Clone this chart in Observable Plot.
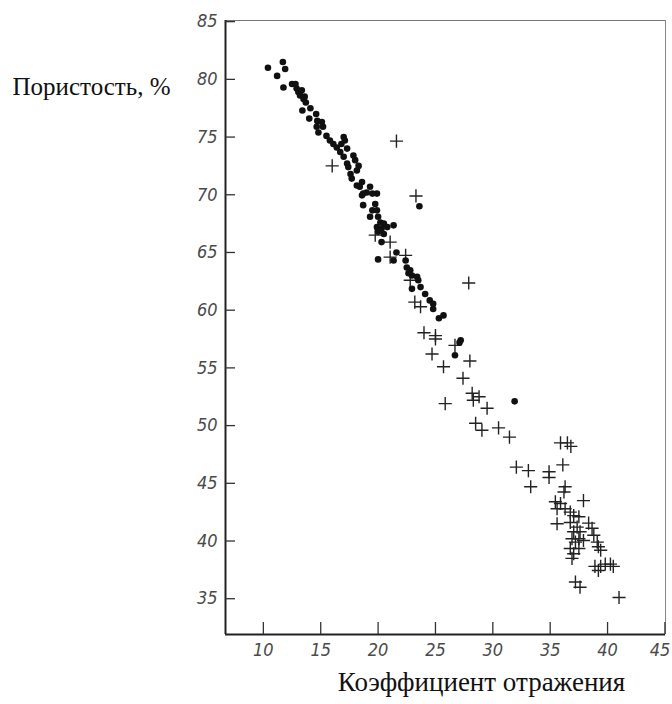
<!DOCTYPE html>
<html>
<head>
<meta charset="utf-8">
<script src="https://cdn.jsdelivr.net/npm/d3@7"></script>
<script src="https://cdn.jsdelivr.net/npm/@observablehq/plot@0.6"></script>
<style>
  html, body { margin: 0; padding: 0; background: #fff; }
</style>
</head>
<body>
<div id="chart"></div>
<script>
// Dots (series 1): reflection coefficient, porosity %
const dotX = [10.4, 11.2, 11.7, 11.9, 11.75, 12.5, 12.8, 12.9, 13.05, 13.2, 13.35, 13.5, 13.6, 13.7, 13.4, 14.1, 14.0, 14.6, 14.7, 15.1,
  14.65, 14.8, 15.2, 15.5, 15.8, 16.1, 16.4, 17.0, 17.1, 16.8, 16.7, 17.0, 17.3, 17.85, 18.0, 17.3, 17.4, 17.6, 17.7, 18.15,
  18.3, 18.6, 18.4, 18.7, 19.0, 19.3, 19.5, 19.9, 18.15, 18.6, 23.6, 18.7, 19.75, 19.5, 19.9, 19.3, 20.0, 20.2, 20.5, 19.9,
  20.3, 20.8, 21.35, 20.0, 20.5, 20.3, 20.0, 21.35, 21.6, 22.4, 22.5, 22.8, 22.65, 22.95, 23.4, 23.5, 23.7, 22.95, 24.1, 24.5,
  24.8, 24.8, 25.3, 25.7, 27.2, 27.1, 26.7, 31.9];
const dotY = [81.0, 80.3, 81.5, 80.9, 79.3, 79.6, 79.6, 79.2, 78.9, 78.6, 79.05, 78.3, 78.5, 78.0, 77.3, 77.5, 76.6, 77.0, 76.4, 76.3,
  75.9, 75.4, 75.9, 75.1, 74.7, 74.4, 74.1, 75.0, 74.7, 74.4, 73.7, 73.3, 74.0, 73.4, 73.0, 72.7, 72.4, 71.8, 71.4, 72.1,
  72.5, 71.1, 70.7, 70.1, 70.2, 70.7, 70.1, 70.1, 70.8, 69.95, 69.0, 69.1, 69.2, 68.65, 68.65, 68.1, 68.1, 67.6, 67.5, 67.2,
  67.05, 67.2, 67.35, 66.8, 66.6, 65.9, 64.4, 64.3, 65.0, 64.3, 63.7, 63.45, 63.2, 63.0, 62.9, 62.6, 62.0, 61.85, 61.4, 60.85,
  60.55, 60.1, 59.3, 59.55, 57.4, 57.2, 56.1, 52.1];

// Crosses (series 2)
const crossX = [21.6, 16.0, 23.3, 19.75, 21.05, 21.05, 22.4, 22.8, 23.2, 23.7, 24.0, 25.0, 25.0, 26.7, 24.7, 25.7, 28.0, 27.9, 27.4, 25.85,
  28.2, 28.3, 28.8, 29.5, 28.5, 29.05, 30.5, 31.45, 32.05, 33.1, 33.3, 34.9, 34.9, 35.9, 36.5, 36.8, 36.1, 36.3, 36.2, 37.9,
  35.45, 35.9, 35.6, 36.3, 36.75, 37.05, 37.5, 35.6, 36.75, 38.35, 37.35, 38.65, 37.05, 37.6, 38.8, 36.9, 37.5, 37.9, 37.2, 39.1,
  39.2, 36.75, 37.5, 39.4, 37.05, 36.9, 38.9, 39.4, 39.8, 40.25, 40.5, 39.2, 37.2, 37.6, 41.0];
const crossY = [74.65, 72.5, 69.9, 66.5, 65.9, 64.6, 64.75, 62.6, 60.7, 60.3, 58.05, 57.8, 57.5, 56.95, 56.2, 55.1, 55.6, 62.35, 54.1, 51.9,
  52.8, 52.2, 52.5, 51.5, 50.2, 49.6, 49.8, 49.0, 46.4, 46.1, 44.7, 46.0, 45.5, 48.5, 48.5, 48.2, 46.6, 44.7, 44.25, 43.5,
  43.4, 43.25, 42.8, 42.8, 42.5, 42.2, 42.1, 41.5, 41.6, 41.55, 41.2, 41.1, 40.8, 40.8, 40.5, 40.2, 40.2, 40.05, 39.9, 39.9,
  39.5, 39.35, 39.35, 39.2, 38.9, 38.5, 37.8, 37.8, 38.0, 38.0, 37.8, 37.45, 36.45, 36.0, 35.1];

const xTicks = [10, 15, 20, 25, 30, 35, 40, 45];
const yTicks = [35, 40, 45, 50, 55, 60, 65, 70, 75, 80, 85];
const xDomain = [6.7, 45.05];
const yDomain = [31.9, 85.1];
const yTitle = "Пористость, %";
const xTitle = "Коэффициент отражения";

const dots = dotX.map((x, i) => ({x, y: dotY[i]}));
const crosses = crossX.map((x, i) => ({x, y: crossY[i]}));

const tickFont = {fontFamily: "'DejaVu Sans Condensed', 'DejaVu Sans', sans-serif", fontSize: 18, fontStyle: "italic", fill: "#4a4a4a"};

const chart = Plot.plot({
  width: 672,
  height: 704,
  marginLeft: 225,
  marginRight: 7,
  marginTop: 20,
  marginBottom: 70,
  style: {background: "#fff", color: "#222", overflow: "visible"},
  x: {domain: xDomain, label: null},
  y: {domain: yDomain, label: null},
  marks: [
    // thin top/right frame
    Plot.ruleY([yDomain[1]], {stroke: "#777", strokeWidth: 1}),
    Plot.ruleX([xDomain[1]], {stroke: "#888", strokeWidth: 1}),
    // thick left/bottom axes
    Plot.ruleX([xDomain[0]], {stroke: "#222", strokeWidth: 2}),
    Plot.ruleY([yDomain[0]], {stroke: "#222", strokeWidth: 2}),
    // inward tick marks
    Plot.axisX(xTicks, {tickSize: -12, tickFormat: () => "", strokeWidth: 1.3, stroke: "#333", label: null}),
    Plot.axisY(yTicks, {tickSize: -10, tickFormat: () => "", strokeWidth: 1.3, stroke: "#333", label: null}),
    // tick labels (last x label nudged inside the picture, as in the reference)
    Plot.axisX(xTicks.slice(0, -1), {tickSize: 0, tickPadding: 9, label: null, ...tickFont}),
    Plot.axisX(xTicks.slice(-1), {tickSize: 0, tickPadding: 9, label: null, dx: -5, ...tickFont}),
    Plot.axisY(yTicks, {tickSize: 0, tickPadding: 8, label: null, ...tickFont}),
    // data
    Plot.dot(crosses, {x: "x", y: "y", symbol: "plus", r: 4.3, stroke: "#222", strokeWidth: 1.4}),
    Plot.dot(dots, {x: "x", y: "y", r: 3.3, fill: "#111", stroke: "none"}),
    // titles
    Plot.text([yTitle], {frameAnchor: "top-left", dx: -213, dy: 57, textAnchor: "start",
      fontFamily: "'Liberation Serif', 'Times New Roman', serif", fontSize: 25, fill: "#111"}),
    Plot.text([xTitle], {frameAnchor: "bottom", dx: 36, dy: 56,
      fontFamily: "'Liberation Serif', 'Times New Roman', serif", fontSize: 27, fill: "#111"})
  ]
});

document.getElementById("chart").appendChild(chart);
</script>
</body>
</html>
